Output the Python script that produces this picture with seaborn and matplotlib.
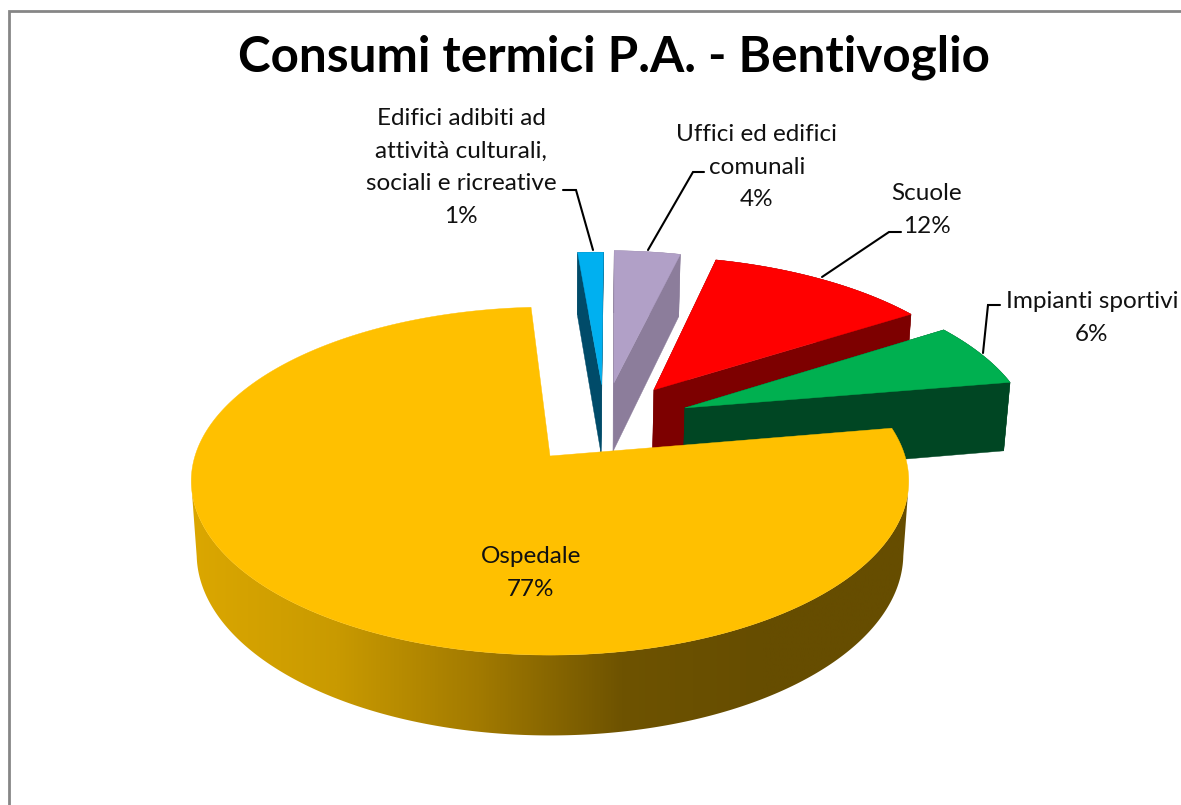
import numpy as np
import matplotlib
matplotlib.use("Agg")
import matplotlib.pyplot as plt
from matplotlib.patches import Polygon
import seaborn as sns

# ---- data ----
title = "Consumi termici P.A. - Bentivoglio"
categories = ["Edifici adibiti ad\nattività culturali,\nsociali e ricreative",
              "Uffici ed edifici\ncomunali", "Scuole", "Impianti sportivi", "Ospedale"]
values = [1.4, 3.6, 12.0, 6.3, 76.7]

# ---- styling / geometry ----
top_colors = ["#00B0F0", "#B1A0C7", "#FF0000", "#00B050", "#FFC000"]
side_colors = ["#004B69", "#8C7D9B", "#7D0000", "#004623", None]
explode = [(0.155, 0.445), (0.192, 0.458), (0.31, 0.411), (0.396, 0.294), (0.0, 0.0)]
gradient = ["#DBA700", "#C99A00", "#A27A00", "#6E5300", "#664D00", "#664D00"]
start_angle = 93.5
CX, CY, A, B, D = 550.0, 456.0, 355.0, 170.4, 73.0
K, M = 0.144, 0.015

sns.set_theme(style="white")
plt.rcParams["font.family"] = ["Lato", "DejaVu Sans"]

fig = plt.figure(figsize=(11.81, 8.05), dpi=100, facecolor="white")
ax = fig.add_axes([0, 0, 1, 1])
ax.set_xlim(0, 1181)
ax.set_ylim(805, 0)
ax.axis("off")


def project(x, y, z=0.0):
    s = 1.0 / (1.0 + K * y + M * z)
    return CX + A * x * s, CY - B * y * s + D * z * s


ramp = np.array(sns.blend_palette(gradient, n_colors=512))[None, :, :3]
total = float(sum(values))
theta = start_angle
for i, v in enumerate(values):
    sweep = 360.0 * v / total
    n = max(int(sweep * 2), 6)
    angles = np.radians(np.linspace(theta, theta - sweep, n + 1))
    theta -= sweep
    ex, ey = explode[i]
    rx, ry = ex + np.cos(angles), ey + np.sin(angles)
    if side_colors[i] is None:
        # gradient wall between the two silhouette points of the big slice
        front = np.sin(angles) <= -0.15
        x0, y0 = project(rx[front], ry[front], 0.0)
        x1, y1 = project(rx[front], ry[front], 1.0)
        poly = Polygon(np.c_[np.r_[x0, x1[::-1]], np.r_[y0, y1[::-1]]], closed=True,
                       fc="none", ec="none", transform=ax.transData)
        ax.add_patch(poly)
        im = ax.imshow(ramp, extent=[192, 908, 760, 400], aspect="auto",
                       zorder=i + 1, interpolation="bilinear")
        im.set_clip_path(poly)
        ax.set_xlim(0, 1181)
        ax.set_ylim(805, 0)
    else:
        x0, y0 = project(rx, ry, 0.0)
        x1, y1 = project(rx, ry, 1.0)
        ax.fill(np.r_[x0, x1[::-1]], np.r_[y0, y1[::-1]], color=side_colors[i], lw=0.3, zorder=i + 1)
        for k in (0, -1):
            fx = np.array([ex, rx[k]])
            fy = np.array([ey, ry[k]])
            a0, b0 = project(fx, fy, 0.0)
            a1, b1 = project(fx, fy, 1.0)
            ax.fill(np.r_[a0, a1[::-1]], np.r_[b0, b1[::-1]], color=side_colors[i], lw=0.3, zorder=i + 1)
    tx, ty = project(np.r_[ex, rx], np.r_[ey, ry], 0.0)
    ax.fill(tx, ty, color=top_colors[i], lw=0.3, zorder=i + 1.5)

# frame
ax.plot([1181, 9, 9], [11.5, 11.5, 805], color="#868686", lw=2.0, zorder=0, solid_joinstyle="miter")

# labels: first-line baseline and centre of each label block
label_pos = [(461, 125), (757, 141), (927, 200), (1092, 308), (531, 563)]
fs = 17.5
line_gap = 32.6
for i, (name, v) in enumerate(zip(categories, values)):
    lines = name.split("\n") + [f"{v:.0f}%"]
    x, y = label_pos[i]
    for j, line in enumerate(lines):
        ax.text(x, y + j * line_gap, line, ha="center", va="baseline", fontsize=fs,
                color="#111111", zorder=10)

# leader lines
leaders = [[(563, 190), (576, 190), (593, 250)],
           [(704, 172), (693, 172), (648, 250)],
           [(901, 232), (889, 232), (822, 277)],
           [(1000, 305), (988, 305), (983, 353)]]
for pts in leaders:
    xs, ys = zip(*pts)
    ax.plot(xs, ys, color="black", lw=1.5, zorder=0.5, solid_joinstyle="miter")

ax.text(614, 72, title, ha="center", va="baseline", fontsize=35.6, fontweight="bold", color="black")

fig.savefig("out.png", dpi=100, facecolor="white")
